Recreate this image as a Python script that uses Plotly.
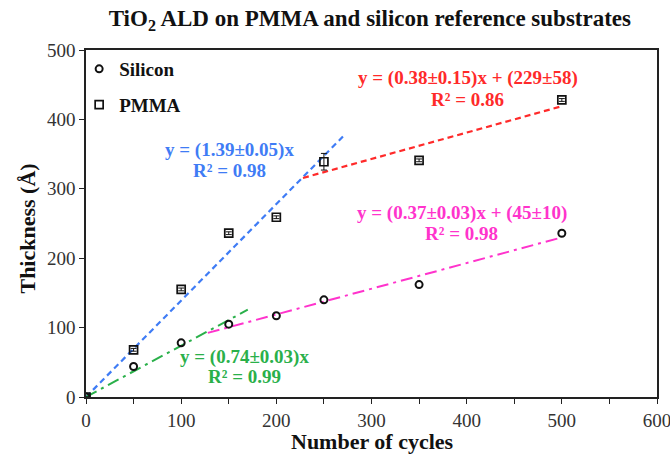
import plotly.graph_objects as go

cycles = [0, 50, 100, 150, 200, 250, 350, 500]
silicon = [0, 44, 78, 105, 117, 140, 162, 236]
pmma = [0, 68, 155, 236, 259, 339, 341, 428]
pmma_err = [0, 2, 2, 2, 2, 12, 2, 2]

# fit lines: (x range, slope, intercept)
blue_x = [0, 270]; blue_slope = 1.39; blue_b = 0
red_x = [228, 500]; red_slope = 0.38; red_b = 229
green_x = [0, 170]; green_slope = 0.74; green_b = 0
mag_x = [128, 500]; mag_slope = 0.37; mag_b = 45

FONT = "Liberation Serif, Times New Roman, serif"

fig = go.Figure()

def fit(xs, m, b):
    return [m * x + b for x in xs]

fig.add_trace(go.Scatter(x=blue_x, y=fit(blue_x, blue_slope, blue_b), mode="lines",
                         line=dict(color="#3f7cf5", width=2.2, dash="6px,4px"), showlegend=False))
fig.add_trace(go.Scatter(x=red_x, y=fit(red_x, red_slope, red_b), mode="lines",
                         line=dict(color="#ff2a2a", width=2.2, dash="6px,4px"), showlegend=False))
fig.add_trace(go.Scatter(x=green_x, y=fit(green_x, green_slope, green_b), mode="lines",
                         line=dict(color="#2ab04a", width=2, dash="12px,5px,3px,5px"), showlegend=False))
fig.add_trace(go.Scatter(x=mag_x, y=fit(mag_x, mag_slope, mag_b), mode="lines",
                         line=dict(color="#ff33cc", width=2, dash="12px,5px,3px,5px"), showlegend=False))

fig.add_trace(go.Scatter(x=cycles, y=silicon, mode="markers", name="<b>Silicon</b>", legendgroup="si",
                         marker=dict(symbol="circle-open", size=7, color="#111", line=dict(width=2))))
fig.add_trace(go.Scatter(x=cycles, y=pmma, mode="markers", name="<b>PMMA</b>", legendgroup="pm",
                         error_y=dict(type="data", array=pmma_err, color="#111", thickness=1, width=3),
                         marker=dict(symbol="square-open", size=8, color="#111", line=dict(width=1.7))))

def note(x, y, text, color):
    fig.add_annotation(x=x, y=y, xref="x", yref="y", text=text, showarrow=False,
                       font=dict(family=FONT, size=19, color=color), align="center")

note(151, 356, "<b>y = (1.39±0.05)x</b>", "#3f7cf5")
note(151, 327, "<b>R² = 0.98</b>", "#3f7cf5")
note(401, 459, "<b>y = (0.38±0.15)x + (229±58)</b>", "#ff2a2a")
note(401, 429, "<b>R² = 0.86</b>", "#ff2a2a")
note(395, 265, "<b>y = (0.37±0.03)x + (45±10)</b>", "#ff33cc")
note(395, 236, "<b>R² = 0.98</b>", "#ff33cc")
note(167, 58, "<b>y = (0.74±0.03)x</b>", "#2ab04a")
note(167, 29, "<b>R² = 0.99</b>", "#2ab04a")

# axis titles
fig.add_annotation(x=0.501, y=-0.128, xref="paper", yref="paper", text="<b>Number of cycles</b>",
                   showarrow=False, xanchor="center", yanchor="middle",
                   font=dict(family=FONT, size=22, color="#111"))
fig.add_annotation(x=-0.103, y=0.486, xref="paper", yref="paper", text="<b>Thickness (Å)</b>",
                   showarrow=False, xanchor="center", yanchor="middle", textangle=-90,
                   font=dict(family=FONT, size=22, color="#111"))

fig.update_layout(
    width=670, height=459,
    margin=dict(l=86, r=13, t=50, b=62, autoexpand=False),
    paper_bgcolor="white", plot_bgcolor="white",
    font=dict(family=FONT, color="#222"),
    title=dict(text="<b>TiO<sub>2</sub> ALD on PMMA and silicon reference substrates</b>",
               x=0.552, xanchor="center", y=0.961, yanchor="middle",
               font=dict(family=FONT, size=23, color="#111")),
    legend=dict(x=-0.012, y=1.0, xanchor="left", yanchor="top",
                font=dict(family=FONT, size=19, color="#111"),
                bgcolor="rgba(0,0,0,0)", tracegroupgap=8, itemwidth=30),
    showlegend=True,
)

fig.update_xaxes(range=[0, 600], tickvals=[0, 100, 200, 300, 400, 500, 600],
                 ticks="outside", ticklen=5, tickwidth=1.2, tickcolor="#222",
                 minor=dict(dtick=50, ticks="outside", ticklen=5, tickwidth=1.2, tickcolor="#222"),
                 showline=True, linecolor="#222", linewidth=1.5, mirror=True,
                 showgrid=False, zeroline=False, automargin=False, ticklabeloverflow="allow",
                 tickfont=dict(family=FONT, size=19, color="#333"))
fig.update_yaxes(range=[0, 500], tickvals=[0, 100, 200, 300, 400, 500],
                 ticks="outside", ticklen=5, tickwidth=1.2, tickcolor="#222",
                 showline=True, linecolor="#222", linewidth=1.5, mirror=True,
                 showgrid=False, zeroline=False, automargin=False,
                 tickfont=dict(family=FONT, size=19, color="#333"))

fig.write_html("out.html", config={"displayModeBar": False},
               post_script="document.body.style.margin='0';document.body.style.overflow='hidden';")
